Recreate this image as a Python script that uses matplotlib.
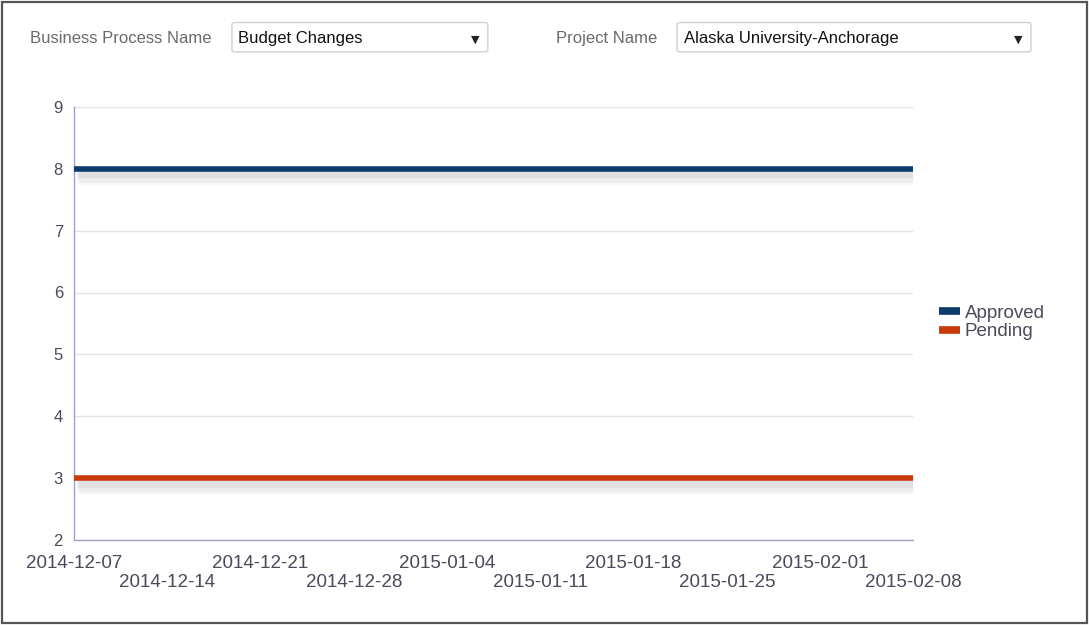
import numpy as np
import pandas as pd
import matplotlib
matplotlib.use('Agg')
import matplotlib.pyplot as plt
import matplotlib.patheffects as pe
from matplotlib.patches import FancyBboxPatch, Rectangle
from matplotlib.lines import Line2D

plt.rcParams['font.family'] = ['Liberation Sans', 'DejaVu Sans']

# weekly dates and counts
weeks = pd.date_range('2014-12-07', '2015-02-08', freq='7D')
approved = [8, 8, 8, 8, 8, 8, 8, 8, 8, 8]
pending = [3, 3, 3, 3, 3, 3, 3, 3, 3, 3]
series_names = ['Approved', 'Pending']
series_colors = ['#0d3b6b', '#c83a0a']

process_name = 'Budget Changes'
project_name = 'Alaska University-Anchorage'

fig = plt.figure(figsize=(10.89, 6.25), dpi=100)
fig.patch.set_facecolor('white')

# outer frame
fig.patches.append(Rectangle((0.002, 0.003), 0.996, 0.994, transform=fig.transFigure,
                             fill=False, edgecolor='#555555', linewidth=1.6))

ax = fig.add_axes([0.068, 0.136, 0.7706, 0.693])

# soft drop shadow under the lines
shadow = [pe.SimpleLineShadow(offset=(3, -5), shadow_color='#000000', alpha=0.03, linewidth=12),
          pe.SimpleLineShadow(offset=(3, -5), shadow_color='#000000', alpha=0.04, linewidth=9),
          pe.SimpleLineShadow(offset=(2, -4), shadow_color='#000000', alpha=0.05, linewidth=6),
          pe.Normal()]

for vals, name, col in zip([approved, pending], series_names, series_colors):
    ax.plot(weeks, vals, color=col, linewidth=4.0, solid_capstyle='butt',
            path_effects=shadow, label=name, zorder=3)

ax.set_xlim(weeks[0], weeks[-1])
ax.set_ylim(2, 9)
ax.set_yticks(range(2, 10))
ax.grid(axis='y', color='#e2e2ea', linewidth=1)
ax.set_axisbelow(True)

for s in ['top', 'right']:
    ax.spines[s].set_visible(False)
for s in ['left', 'bottom']:
    ax.spines[s].set_color('#a0a0c4')
    ax.spines[s].set_linewidth(1)

# staggered date labels: two rows
labels = [d.strftime('%Y-%m-%d') for d in weeks]
ax.set_xticks(weeks[::2], labels[::2])
ax.set_xticks(weeks[1::2], labels[1::2], minor=True)
ax.tick_params(axis='both', which='both', length=0, labelcolor='#4a4a5c')
ax.tick_params(axis='x', which='both', labelsize=13.5)
ax.tick_params(axis='x', which='major', pad=11)
ax.tick_params(axis='x', which='minor', pad=24.5)
ax.tick_params(axis='y', labelsize=12, pad=8)

handles = [Line2D([], [], color=c, linewidth=5.5, solid_capstyle='butt') for c in series_colors]
fig.legend(handles, series_names, loc='center left', bbox_to_anchor=(0.847, 0.484),
           frameon=False, fontsize=13.5, handlelength=1.1, handletextpad=0.25,
           labelspacing=0.05, labelcolor='#4a4a5c')

# filter controls on top
def dropdown(x0, w, text):
    box = FancyBboxPatch((x0, 0.917), w, 0.047, transform=fig.transFigure,
                         boxstyle='round,pad=0,rounding_size=0.003',
                         facecolor='white', edgecolor='#cfcfcf', linewidth=1)
    fig.patches.append(box)
    fig.text(x0 + 0.006, 0.939, text, fontsize=12, color='#111111', va='center')
    fig.text(x0 + w - 0.012, 0.937, '\u25bc', fontsize=8, color='#222222',
             va='center', ha='center', family='DejaVu Sans')

fig.text(0.028, 0.939, 'Business Process Name', fontsize=12, color='#6a6a6a', va='center')
dropdown(0.213, 0.235, process_name)
fig.text(0.511, 0.939, 'Project Name', fontsize=12, color='#6a6a6a', va='center')
dropdown(0.6217, 0.325, project_name)

fig.savefig('out.png', dpi=100)
